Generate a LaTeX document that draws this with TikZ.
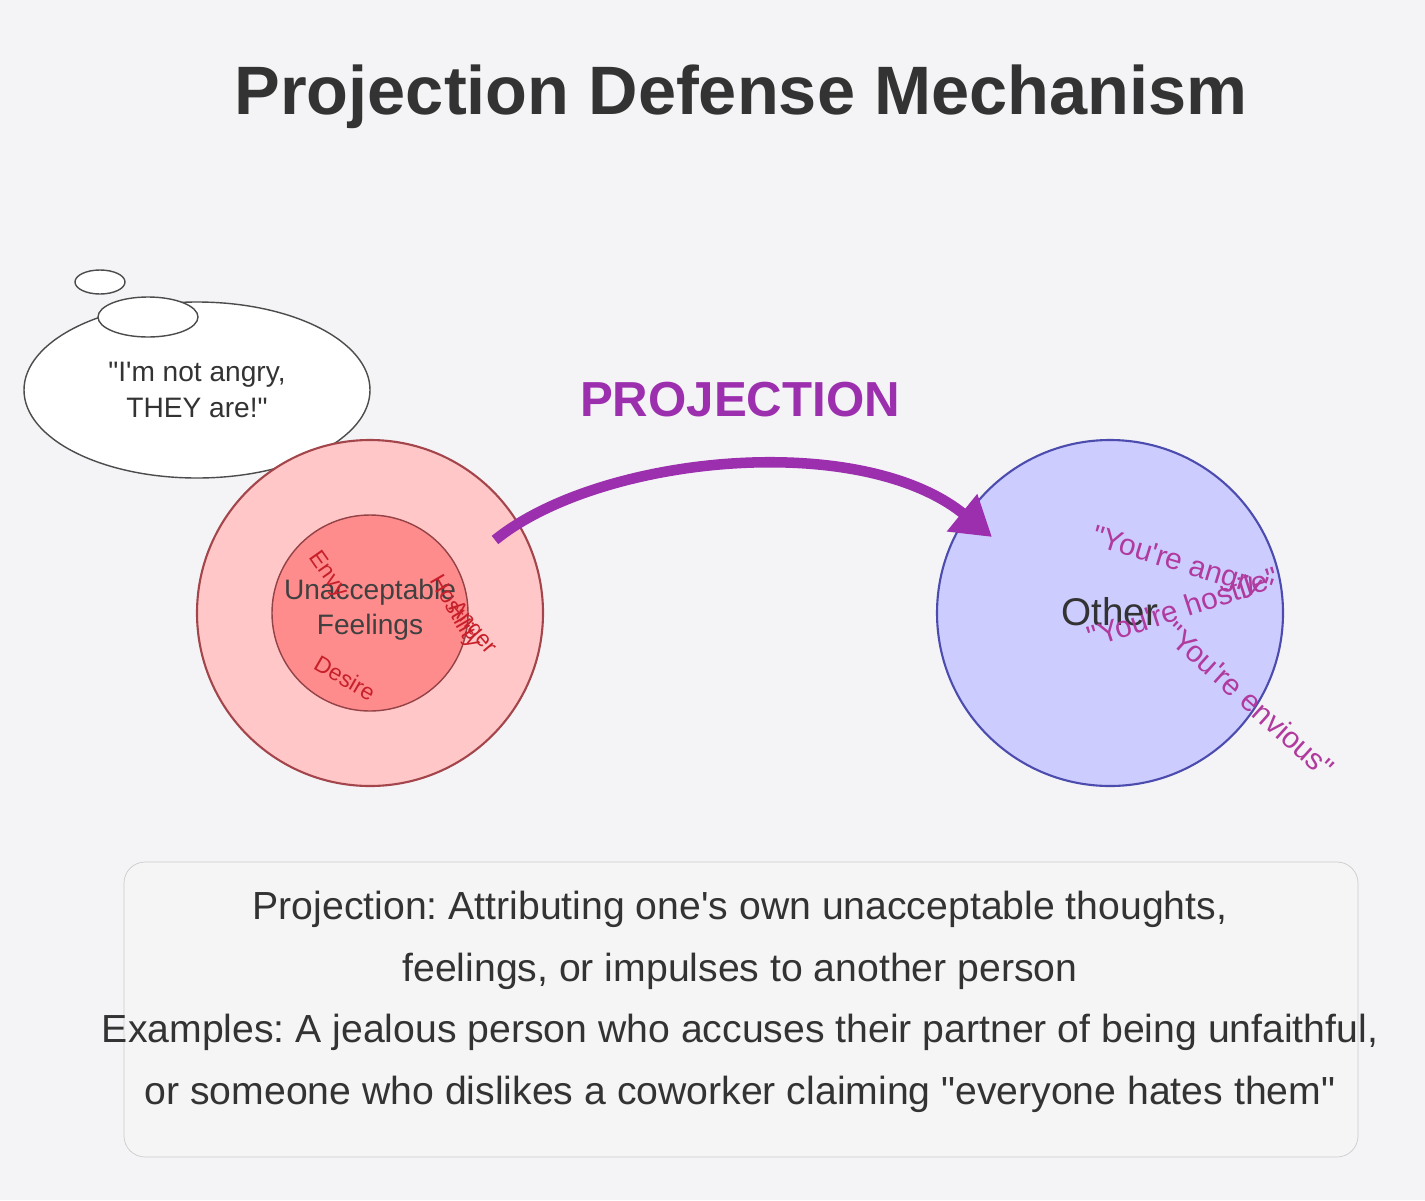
\documentclass[tikz,border=0pt]{standalone}
\usepackage{fontspec}
\setmainfont{Liberation Sans}[Ligatures=TeXOff]
\usetikzlibrary{arrows.meta}
\definecolor{bg}{HTML}{F4F4F7}
\definecolor{projcol}{HTML}{9C2FAE}
\definecolor{wordcol}{HTML}{B03A9E}
\definecolor{feelcol}{HTML}{C8202A}
\tikzset{
  word/.style={text=feelcol, font=\fontsize{13}{13}\selectfont},
  claim/.style={text=wordcol, font=\fontsize{17}{17}\selectfont},
}
\frenchspacing
\begin{document}
\begin{tikzpicture}[x=0.02cm, y=-0.02cm]
		\fill[bg] (0,0) rectangle (1425,1200);
		\useasboundingbox (0,0) rectangle (1425,1200);
		\node[text=black!80, font=\bfseries\fontsize{39}{39}\selectfont] (title) at (741,97) {Projection Defense Mechanism};

		% thought bubble
		\draw[black!70, fill=white, thick] (197,390) ellipse (173 and 88);
		\draw[black!70, fill=white, thick] (148,317) ellipse (50 and 20);
		\draw[black!70, fill=white, thick] (100,282) ellipse (25 and 12);
		\node[align=center, text=black!80, font=\fontsize{16}{20}\selectfont] (thought) at (197,390) {"I'm not angry,\\THEY are!"};

		% self
		\draw[very thick, draw=feelcol!70!black!80, fill=red!22] (370,613) circle (173);
		\draw[thick, draw=feelcol!60!black!80, fill=red!45] (370,613) circle (98);
		\node[align=center, text=black!75, font=\fontsize{16}{20}\selectfont] (self) at (370,610) {Unacceptable\\Feelings};
		\node[word, rotate=-55] (envy) at (328,575) {Envy};
		\node[word, rotate=-60] (hostility) at (455,612) {Hostility};
		\node[word, rotate=-50] (anger) at (472,628) {Anger};
		\node[word, rotate=-30] (desire) at (345,678) {Desire};

		% other
		\draw[very thick, draw=blue!55!black!70, fill=blue!20] (1110,613) circle (173);
		\node[text=black!80, font=\fontsize{22}{22}\selectfont] (other) at (1110,612) {Other};
		\node[claim, rotate=-17] (angry) at (1182,565) {"You're angry"};
		\node[claim, rotate=18] (hostile) at (1183,607) {"You're hostile"};
		\node[claim, rotate=-42] (envious) at (1250,700) {"You're envious"};

		% projection arrow
		\coordinate (from) at (495,540);
		\coordinate (to) at (992,537);
		\draw[projcol, line width=6pt, -{Triangle[length=22pt, width=26pt]}] (from) .. controls (600,455) and (860,430) .. (to);
		\node[text=projcol, font=\bfseries\fontsize{28}{28}\selectfont] (proj) at (740,400) {PROJECTION};

		% description
		\draw[black!20, fill=black!4, rounded corners=12] (124,862) rectangle (1358,1157);
		\node[align=center, text=black!80, font=\fontsize{22.3}{35}\selectfont] (desc) at (740,1002) {Projection: Attributing one's own unacceptable thoughts,\\feelings, or impulses to another person\\Examples: A jealous person who accuses their partner of being unfaithful,\\or someone who dislikes a coworker claiming "everyone hates them"};
	\end{tikzpicture}
\end{document}
